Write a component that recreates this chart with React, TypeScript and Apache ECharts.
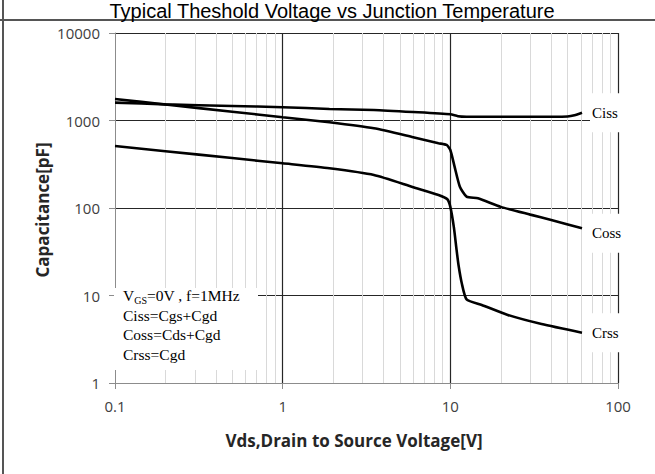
import React, { useEffect, useRef } from "react";
import * as echarts from "echarts";

const titleText = "Typical Theshold Voltage vs Junction Temperature";
const xAxisTitle = "Vds,Drain to Source Voltage[V]";
const yAxisTitle = "Capacitance[pF]";

const xMinorLines = [0.2, 0.3, 0.4, 0.5, 0.6, 0.7, 0.8, 0.9, 2, 3, 4, 5, 6, 7, 8, 9, 20, 30, 40, 50, 60, 70, 80, 90];

const cissV = [0.1, 0.2, 0.5, 1, 1.9, 3.5, 6, 10, 11.1, 12.5, 20, 40, 50, 55, 61];
const cissC = [1600, 1530, 1465, 1420, 1355, 1320, 1250, 1177, 1120, 1105, 1105, 1105, 1110, 1146, 1228];

const cossV = [0.1, 0.2, 0.5, 1, 1.9, 3.5, 6, 8.5, 9.5, 10, 10.6, 11.4, 12.5, 14.6, 20, 30, 40, 61];
const cossC = [1760, 1525, 1260, 1090, 955, 815, 645, 550, 525, 460, 297, 175, 135, 129, 103, 84, 73, 58.6];

const crssV = [0.1, 0.2, 0.5, 1, 1.9, 3.5, 6, 8.5, 9.6, 10, 10.5, 10.9, 11.2, 11.7, 12.5, 15.4, 22, 35, 61];
const crssC = [511, 446, 372, 324, 284, 238, 173, 141, 126, 103, 60, 33, 22, 13.8, 9.05, 7.8, 6.0, 4.72, 3.76];

const noteLines = ["Ciss=Cgs+Cgd", "Coss=Cds+Cgd", "Crss=Cgd"];

const zip = (xs: number[], ys: number[]) => xs.map((x, i) => [x, ys[i]]);

export default function App() {
  const ref = useRef<HTMLDivElement>(null);
  useEffect(() => {
    const chart = echarts.init(ref.current!, null, { renderer: "svg" });
    const labelFont = "'Open Sans', sans-serif";
    const serif = "'Liberation Serif', serif";
    const curve = (name: string, xs: number[], ys: number[], offset: number[]) => ({
      name,
      type: "line",
      data: zip(xs, ys),
      showSymbol: false,
      symbol: "none",
      smooth: 0.2,
      z: 5,
      lineStyle: { color: "#000", width: 2.6 },
      silent: true,
      endLabel: {
        show: true,
        formatter: name,
        fontFamily: serif,
        fontSize: 15,
        color: "#000",
        backgroundColor: "#fff",
        padding: [12, 20, 12, 2],
        distance: 8,
        offset,
      },
    });
    chart.setOption({
      animation: false,
      grid: { left: 115, top: 33, width: 503, height: 350, containLabel: false },
      xAxis: {
        type: "log",
        logBase: 10,
        min: 0.1,
        max: 100,
        z: 2,
        axisLine: { show: true, lineStyle: { color: "#8c8c8c", width: 1 } },
        axisTick: { show: true, length: 6, lineStyle: { color: "#8c8c8c" } },
        axisLabel: {
          margin: 15,
          fontFamily: labelFont,
          fontSize: 15,
          color: "#404040",
          formatter: (v: number) => String(+v.toPrecision(6)),
        },
        splitLine: { show: true, showMinLine: false, lineStyle: { color: "#262626", width: 1.2 } },
      },
      yAxis: {
        type: "log",
        logBase: 10,
        min: 1,
        max: 10000,
        z: 2,
        axisLine: { show: true, lineStyle: { color: "#8c8c8c", width: 1 } },
        axisTick: { show: true, length: 6, lineStyle: { color: "#8c8c8c" } },
        axisLabel: {
          margin: 15,
          fontFamily: labelFont,
          fontSize: 15,
          color: "#404040",
          formatter: (v: number) => String(+v.toPrecision(6)),
        },
        splitLine: { show: true, showMinLine: false, lineStyle: { color: "#262626", width: 1.2 } },
      },
      series: [
        {
          name: "minor",
          type: "line",
          data: [[0.1, 1]],
          symbol: "none",
          lineStyle: { opacity: 0 },
          z: 1,
          silent: true,
          markLine: {
            silent: true,
            symbol: ["none", "none"],
            label: { show: false },
            lineStyle: { type: "solid", color: "#d9d9d9", width: 1 },
            emphasis: { disabled: true },
            data: xMinorLines.map((v) => ({ xAxis: v })),
          },
        },
        curve("Ciss", cissV, cissC, [0, 0]),
        curve("Coss", cossV, cossC, [0, 5]),
        curve("Crss", crssV, crssC, [0, 0]),
      ],
      graphic: [
        { type: "line", z: 50, shape: { x1: 3, y1: 0, x2: 3, y2: 474 }, style: { stroke: "#555", lineWidth: 2 } },
        { type: "line", z: 50, shape: { x1: 0, y1: 20, x2: 655, y2: 20 }, style: { stroke: "#555", lineWidth: 2 } },
        {
          type: "text",
          z: 50,
          x: 332,
          y: 21,
          style: {
            text: titleText,
            font: "20px 'Liberation Sans', Arial, sans-serif",
            fill: "#000",
            align: "center",
            verticalAlign: "bottom",
          },
        },
        {
          type: "text",
          z: 50,
          x: 354,
          y: 440,
          style: {
            text: xAxisTitle,
            font: "bold 17px 'Open Sans', sans-serif",
            fill: "#262626",
            align: "center",
            verticalAlign: "middle",
          },
        },
        {
          type: "text",
          z: 50,
          x: 42,
          y: 210,
          rotation: Math.PI / 2,
          style: {
            text: yAxisTitle,
            font: "bold 17px 'Open Sans', sans-serif",
            fill: "#262626",
            align: "center",
            verticalAlign: "middle",
          },
        },
        { type: "rect", z: 60, shape: { x: 114, y: 288, width: 144, height: 82 }, style: { fill: "#fff" } },
        {
          type: "text",
          z: 61,
          x: 123,
          y: 286,
          style: {
            text: "{n|V}{s|GS}{n|=0V , f=1MHz}\n" + noteLines.map((t) => "{n|" + t + "}").join("\n"),
            fill: "#000",
            rich: {
              n: { fontFamily: serif, fontSize: 15.5, lineHeight: 19.5, fill: "#000" },
              s: { fontFamily: serif, fontSize: 10, lineHeight: 19.5, verticalAlign: "bottom", fill: "#000" },
            },
          },
        },
      ],
    });
    return () => chart.dispose();
  }, []);
  return (
    <div
      ref={ref}
      style={{ position: "fixed", left: 0, top: 0, width: 655, height: 474, background: "#fff" }}
    />
  );
}
